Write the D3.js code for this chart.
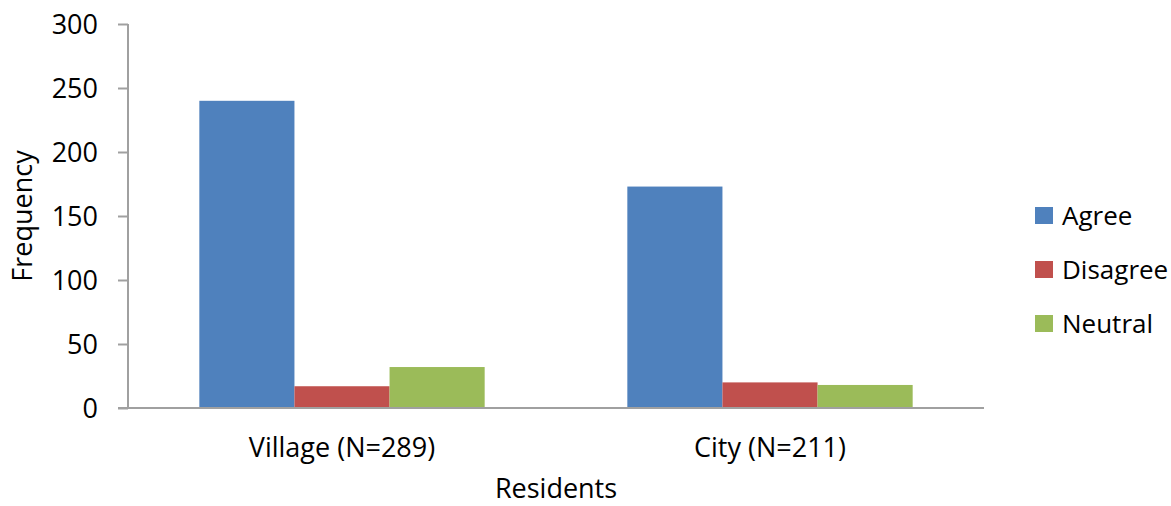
<!DOCTYPE html>
<html>
<head>
<meta charset="utf-8">
<script src="https://d3js.org/d3.v7.min.js"></script>
<style>
  body { margin: 0; background: #fff; }
  svg text { font-family: "Open Sans", sans-serif; fill: #000; }
</style>
</head>
<body>
<div id="chart"></div>
<script>
// Data
const categories = ["Village (N=289)", "City (N=211)"];
const seriesNames = ["Agree", "Disagree", "Neutral"];
const agreeValues = [240, 173];
const disagreeValues = [17, 20];
const neutralValues = [32, 18];
const yTicks = [0, 50, 100, 150, 200, 250, 300];
const colors = ["#4F81BD", "#C0504D", "#9BBB59"];

const width = 1171, height = 506;
const margin = { top: 24, right: 187, bottom: 98, left: 128 };
const innerW = width - margin.left - margin.right;
const innerH = height - margin.top - margin.bottom;

const seriesValues = [agreeValues, disagreeValues, neutralValues];

const svg = d3.select("#chart")
    .append("svg")
    .attr("width", width)
    .attr("height", height);

const g = svg.append("g")
    .attr("transform", `translate(${margin.left},${margin.top})`);

const x0 = d3.scaleBand()
    .domain(categories)
    .range([0, innerW])
    .paddingInner(1 / 3)
    .paddingOuter(1 / 6);

const x1 = d3.scaleBand()
    .domain(seriesNames)
    .range([0, x0.bandwidth()]);

const y = d3.scaleLinear()
    .domain([0, 300])
    .range([innerH, 0]);

// bars
categories.forEach((cat, ci) => {
    const grp = g.append("g").attr("transform", `translate(${x0(cat)},0)`);
    seriesNames.forEach((s, si) => {
        const v = seriesValues[si][ci];
        grp.append("rect")
            .attr("x", x1(s))
            .attr("y", y(v))
            .attr("width", x1.bandwidth())
            .attr("height", innerH - y(v))
            .attr("fill", colors[si]);
    });
});

// y axis
const yAxis = g.append("g")
    .call(d3.axisLeft(y).tickValues(yTicks).tickSize(10).tickPadding(20));
yAxis.select(".domain").attr("stroke", "#a0a0a0").attr("stroke-width", 2)
    .attr("d", `M0,0V${innerH}`);
yAxis.selectAll(".tick line").attr("stroke", "#a0a0a0").attr("stroke-width", 2);
yAxis.selectAll(".tick text")
    .attr("font-size", "27px")
    .attr("font-family", '"Open Sans", sans-serif')
    .attr("fill", "#000")
    .attr("dy", "0.36em");

// x axis (line only, labels below)
const xAxis = g.append("g")
    .attr("transform", `translate(0,${innerH})`)
    .call(d3.axisBottom(x0).tickSize(0).tickPadding(30));
xAxis.select(".domain").attr("stroke", "#a0a0a0").attr("stroke-width", 2)
    .attr("d", `M-10,0H${innerW}`);
xAxis.selectAll(".tick text")
    .attr("font-size", "27px")
    .attr("font-family", '"Open Sans", sans-serif')
    .attr("fill", "#000")
    .attr("y", 49)
    .attr("dy", 0);

// axis titles
svg.append("text")
    .attr("transform", `translate(32,${margin.top + innerH / 2}) rotate(-90)`)
    .attr("text-anchor", "middle")
    .attr("font-size", "27px")
    .text("Frequency");

svg.append("text")
    .attr("x", margin.left + innerW / 2)
    .attr("y", 498)
    .attr("text-anchor", "middle")
    .attr("font-size", "27px")
    .text("Residents");

// legend
const legend = svg.append("g").attr("transform", "translate(1035,207)");
seriesNames.forEach((s, i) => {
    const item = legend.append("g").attr("transform", `translate(0,${i * 54})`);
    item.append("rect")
        .attr("width", 18)
        .attr("height", 17)
        .attr("fill", colors[i]);
    item.append("text")
        .attr("x", 27)
        .attr("y", 18)
        .attr("font-size", "26px")
        .text(s);
});
</script>
</body>
</html>
